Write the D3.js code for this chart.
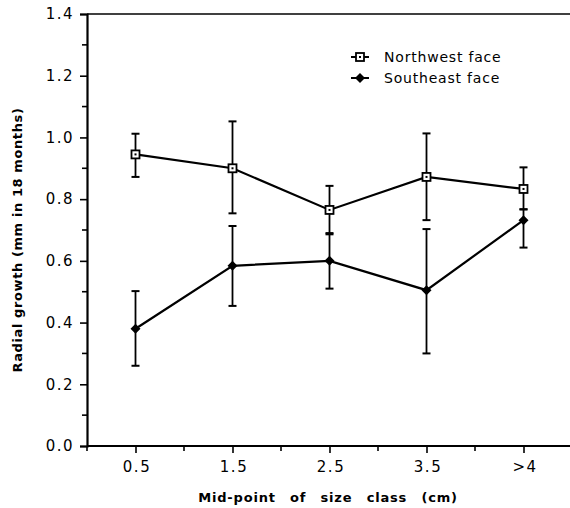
<!DOCTYPE html>
<html lang="en">
<head>
  <meta charset="utf-8">
  <title>Radial growth by size class</title>
  <script src="https://d3js.org/d3.v7.min.js"></script>
  <style>
    body { margin: 0; background: #fff; }
    text { font-family: "DejaVu Sans", Verdana, sans-serif; fill: #000; }
  </style>
</head>
<body>
  <svg width="570" height="508"></svg>
  <script>
    // size classes (position on the axis) and their labels
    var classPos = [0.5, 1.5, 2.5, 3.5, 4.5];
    var classLabels = ["0.5", "1.5", "2.5", "3.5", ">4"];

    // northwest face: mean, upper and lower error bar ends
    var nwMean = [0.945, 0.90, 0.765, 0.872, 0.833];
    var nwHigh = [1.012, 1.052, 0.843, 1.013, 0.903];
    var nwLow  = [0.872, 0.754, 0.686, 0.732, 0.767];

    // southeast face
    var seMean = [0.38, 0.584, 0.60, 0.505, 0.732];
    var seHigh = [0.502, 0.713, 0.690, 0.703, 0.767];
    var seLow  = [0.260, 0.454, 0.510, 0.300, 0.643];

    var yTicks = [0, 0.2, 0.4, 0.6, 0.8, 1.0, 1.2, 1.4];

    var svg = d3.select("svg"),
      plotLeft = 87,
      plotTop = 14,
      plotBottom = 446;

    var x = d3.scaleLinear().domain([0, 5]).range([plotLeft, plotLeft + 5 * 97]);
    var y = d3.scaleLinear().domain([0, 1.4]).range([plotBottom, plotTop]);

    // frame: top line
    svg.append("line")
      .attr("x1", plotLeft).attr("x2", 570)
      .attr("y1", plotTop).attr("y2", plotTop)
      .attr("stroke", "#000").attr("stroke-width", 1.6);

    // y axis
    var yAxis = svg.append("g")
      .attr("transform", "translate(" + plotLeft + ",0)")
      .call(d3.axisLeft(y).tickValues(yTicks).tickFormat(d3.format(".1f")).tickSize(7).tickPadding(6));
    yAxis.select(".domain").attr("stroke-width", 2.2);
    yAxis.selectAll(".tick line").attr("stroke-width", 1.6);
    yAxis.selectAll("text").style("font-size", "15px").style("letter-spacing", "1.5px");
    yAxis.append("g").selectAll("line")
      .data(d3.range(0.1, 1.4, 0.2))
      .enter().append("line")
      .attr("x1", -5).attr("x2", 0)
      .attr("y1", d => y(d)).attr("y2", d => y(d))
      .attr("stroke", "#000").attr("stroke-width", 1.6);

    // x axis
    var xAxis = svg.append("g")
      .attr("transform", "translate(0," + plotBottom + ")")
      .call(d3.axisBottom(x).tickValues(classPos).tickFormat((d, i) => classLabels[i]).tickSize(7).tickPadding(8).tickSizeOuter(0));
    xAxis.select(".domain").attr("d", "M" + plotLeft + ",0H570").attr("stroke-width", 2.2);
    xAxis.selectAll(".tick line").attr("stroke-width", 1.6);
    xAxis.selectAll("text").style("font-size", "15px").style("letter-spacing", "1.5px").attr("dx", 1);
    xAxis.append("g").selectAll("line")
      .data([0, 1, 2, 3, 4])
      .enter().append("line")
      .attr("x1", d => x(d)).attr("x2", d => x(d))
      .attr("y1", 0).attr("y2", 5)
      .attr("stroke", "#000").attr("stroke-width", 1.6);

    // axis titles
    svg.append("text")
      .attr("x", 328).attr("y", 502)
      .attr("text-anchor", "middle")
      .style("font-size", "13px").style("font-weight", "bold")
      .style("word-spacing", "9px").style("letter-spacing", "0.8px")
      .text("Mid-point of size class (cm)");

    svg.append("text")
      .attr("transform", "translate(22,240) rotate(-90)")
      .attr("text-anchor", "middle")
      .style("font-size", "13px").style("font-weight", "bold")
      .style("letter-spacing", "0.6px")
      .text("Radial growth (mm in 18 months)");

    var line = d3.line().x((d, i) => x(classPos[i])).y(d => y(d));

    function drawSeries(mean, high, low, filled) {
      var g = svg.append("g");
      g.append("path")
        .attr("d", line(mean))
        .attr("fill", "none").attr("stroke", "#000").attr("stroke-width", 2.2);

      classPos.forEach((p, i) => {
        var cx = x(p);
        g.append("line")
          .attr("x1", cx).attr("x2", cx)
          .attr("y1", y(high[i])).attr("y2", y(low[i]))
          .attr("stroke", "#000").attr("stroke-width", 1.8);
        [high[i], low[i]].forEach(v => {
          g.append("line")
            .attr("x1", cx - 4).attr("x2", cx + 4)
            .attr("y1", y(v)).attr("y2", y(v))
            .attr("stroke", "#000").attr("stroke-width", 2);
        });
        drawMarker(g, cx, y(mean[i]), filled);
      });
    }

    function drawMarker(g, cx, cy, filled) {
      if (filled) {
        g.append("path")
          .attr("d", "M" + cx + "," + (cy - 5) + "L" + (cx + 5) + "," + cy + "L" + cx + "," + (cy + 5) + "L" + (cx - 5) + "," + cy + "Z")
          .attr("fill", "#000");
      } else {
        g.append("rect")
          .attr("x", cx - 4).attr("y", cy - 4)
          .attr("width", 8).attr("height", 8)
          .attr("fill", "#fff").attr("stroke", "#000").attr("stroke-width", 1.8);
        g.append("rect")
          .attr("x", cx - 1).attr("y", cy - 1)
          .attr("width", 2).attr("height", 2)
          .attr("fill", "#000");
      }
    }

    drawSeries(nwMean, nwHigh, nwLow, false);
    drawSeries(seMean, seHigh, seLow, true);

    // legend
    var legend = svg.append("g");
    [["Northwest face", false], ["Southeast face", true]].forEach((d, i) => {
      var ly = 57 + i * 21;
      legend.append("line")
        .attr("x1", 351).attr("x2", 369)
        .attr("y1", ly).attr("y2", ly)
        .attr("stroke", "#000").attr("stroke-width", 2);
      drawMarker(legend, 360, ly, d[1]);
      legend.append("text")
        .attr("x", 384).attr("y", ly + 5)
        .style("font-size", "14px").style("letter-spacing", "0.8px")
        .text(d[0]);
    });
  </script>
</body>
</html>
